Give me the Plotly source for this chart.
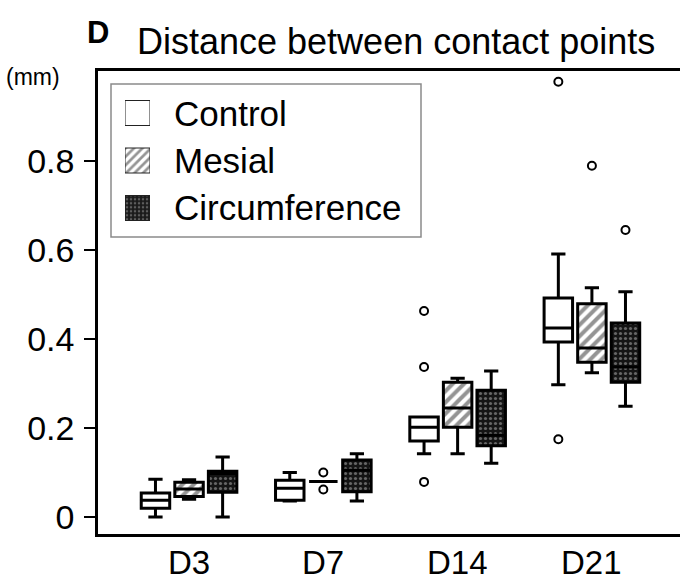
import plotly.graph_objects as go

categories = ["D3", "D7", "D14", "D21"]
series = ["Control", "Mesial", "Circumference"]

control_lower = [0.000, 0.036, 0.142, 0.297]
control_q1 = [0.020, 0.038, 0.171, 0.393]
control_med = [0.038, 0.065, 0.202, 0.425]
control_q3 = [0.054, 0.083, 0.225, 0.492]
control_upper = [0.085, 0.100, 0.225, 0.591]
control_out = [[], [], [0.463, 0.337, 0.079], [0.978, 0.175]]

mesial_lower = [0.040, 0.080, 0.142, 0.324]
mesial_q1 = [0.046, 0.080, 0.202, 0.348]
mesial_med = [0.063, 0.080, 0.245, 0.380]
mesial_q3 = [0.078, 0.080, 0.303, 0.479]
mesial_upper = [0.084, 0.080, 0.312, 0.515]
mesial_out = [[], [0.100, 0.062], [], [0.789]]

circ_lower = [0.000, 0.036, 0.121, 0.249]
circ_q1 = [0.056, 0.057, 0.160, 0.303]
circ_med = [0.098, 0.105, 0.184, 0.337]
circ_q3 = [0.103, 0.128, 0.285, 0.436]
circ_upper = [0.135, 0.142, 0.328, 0.506]
circ_out = [[], [], [], [0.645]]

y_tickvals = [0, 0.2, 0.4, 0.6, 0.8]
y_ticktext = ["0", "0.2", "0.4", "0.6", "0.8"]

FONT = "Liberation Sans, Arial, Helvetica, sans-serif"
W, H = 680, 583
L, R, T, B = 98, 0, 71, 49
PW, PH = W - L - R, H - T - B


def px(xp):
    return (xp - L) / PW


def py(yp):
    return (H - B - yp) / PH


stats = [
    (control_lower, control_q1, control_med, control_q3, control_upper, control_out),
    (mesial_lower, mesial_q1, mesial_med, mesial_q3, mesial_upper, mesial_out),
    (circ_lower, circ_q1, circ_med, circ_q3, circ_upper, circ_out),
]
offsets = [-0.25, 0.0, 0.25]
box_w = 0.212
styles = [
    dict(color="white", pattern=dict(shape="")),
    dict(color="white", pattern=dict(shape="/", fgcolor="#2a2a2a", bgcolor="white", size=8, solidity=0.5)),
    dict(color="#141414", pattern=dict(shape=".", fgcolor="#b8b8b8", bgcolor="#141414", size=5, solidity=0.32)),
]
legend_patterns = [
    dict(shape=""),
    dict(shape="/", fgcolor="#2a2a2a", bgcolor="white", size=6, solidity=0.45),
    dict(shape=".", fgcolor="#a0a0a0", bgcolor="#1a1a1a", size=4, solidity=0.3),
]

fig = go.Figure()

for k, (lo, q1, med, q3, up, out) in enumerate(stats):
    xs = [i + offsets[k] for i in range(len(categories))]
    fig.add_trace(go.Bar(
        x=xs, y=[b - a for a, b in zip(q1, q3)], base=q1, width=box_w,
        marker=dict(color=styles[k]["color"], line=dict(width=0), pattern=styles[k]["pattern"]),
        showlegend=False, hoverinfo="skip",
    ))
    fig.add_trace(go.Box(
        x=xs, q1=q1, median=med, q3=q3, lowerfence=lo, upperfence=up,
        width=box_w, whiskerwidth=0.5, boxpoints=False,
        fillcolor="rgba(0,0,0,0)", line=dict(color="black", width=3),
        showlegend=False, name=series[k],
    ))
    ox, oy = [], []
    for i, vals in enumerate(out):
        for v in vals:
            ox.append(i + offsets[k])
            oy.append(v)
    fig.add_trace(go.Scatter(
        x=ox, y=oy, mode="markers",
        marker=dict(symbol="circle-open", size=8, color="black", line=dict(width=2, color="black")),
        showlegend=False,
    ))

# custom legend swatches on an inset axis
sw_x0, sw_x1 = 125, 150
row_h = 47.5
top_row = 89.25
for k in range(3):
    fig.add_trace(go.Bar(
        x=[1], y=[k], base=[0], orientation="h", width=25 / row_h,
        marker=dict(color=styles[k]["color"], line=dict(width=1, color="#222222"),
                    pattern=legend_patterns[k]),
        xaxis="x2", yaxis="y2", showlegend=False, hoverinfo="skip",
    ))

annotations = [
    dict(text="<b>D</b>", x=px(98), y=py(33), xref="paper", yref="paper",
         showarrow=False, font=dict(size=31, family=FONT, color="black"), xanchor="center", yanchor="middle"),
    dict(text="Distance between contact points", x=px(135), y=py(41), xref="paper", yref="paper",
         showarrow=False, font=dict(size=36, family=FONT, color="black"), xanchor="left", yanchor="middle"),
    dict(text="(mm)", x=px(62), y=py(77), xref="paper", yref="paper",
         showarrow=False, font=dict(size=23, family=FONT, color="black"), xanchor="right", yanchor="middle"),
]
for k in range(3):
    annotations.append(dict(
        text=series[k], x=px(172), y=py(top_row + row_h * (k + 0.5)), xref="paper", yref="paper",
        showarrow=False, font=dict(size=35, family=FONT, color="black"), xanchor="left", yanchor="middle"))
for i, c in enumerate(categories):
    annotations.append(dict(
        text=c, x=i, y=py(562), xref="x", yref="paper", showarrow=False,
        font=dict(size=33, family=FONT, color="black"), xanchor="center", yanchor="middle"))

fig.update_layout(
    width=W, height=H,
    margin=dict(l=L, r=R, t=T, b=B),
    paper_bgcolor="white", plot_bgcolor="white",
    barmode="overlay",
    font=dict(family=FONT, size=34, color="black"),
    xaxis=dict(range=[-0.678, 3.656], tickvals=list(range(len(categories))), ticktext=categories,
               showticklabels=False,
               showline=True, linecolor="black", linewidth=2.5, mirror=True, ticks="",
               showgrid=False, zeroline=False),
    yaxis=dict(range=[-0.038, 1.002], tickvals=y_tickvals, ticktext=y_ticktext,
               showline=True, linecolor="black", linewidth=2.5, ticks="outside", ticklen=11,
               tickwidth=2, tickcolor="black", showgrid=False, zeroline=False,
               tickfont=dict(size=34), ticklabelstandoff=3),
    xaxis2=dict(domain=[px(sw_x0), px(sw_x1)], range=[0, 1], visible=False, anchor="y2", fixedrange=True),
    yaxis2=dict(domain=[py(top_row + 3 * row_h), py(top_row)], range=[2.5, -0.5],
                visible=False, anchor="x2", fixedrange=True),
    shapes=[dict(type="rect", xref="paper", yref="paper",
                 x0=px(111), x1=px(421), y0=py(237), y1=py(84),
                 line=dict(color="#8a8a8a", width=1.5), fillcolor="rgba(0,0,0,0)", layer="above")],
    annotations=annotations,
    showlegend=False,
)

fig.write_html("out.html")
